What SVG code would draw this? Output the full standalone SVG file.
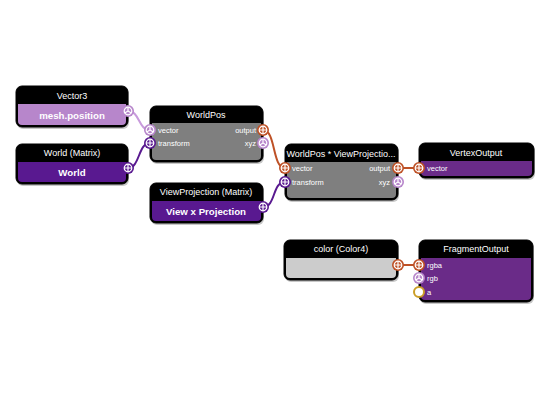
<svg xmlns="http://www.w3.org/2000/svg" width="550" height="400" viewBox="0 0 550 400">
<style>
.frame{fill:#000;stroke:#000;stroke-width:1}
.shadow{fill:#9a9a9a;opacity:.55}
.hd{font-family:"Liberation Sans",Arial,sans-serif;font-size:9px;fill:#fff;text-anchor:middle}
.val{font-family:"Liberation Sans",Arial,sans-serif;font-size:9.7px;font-weight:bold;fill:#fff;text-anchor:middle}
.pl{font-family:"Liberation Sans",Arial,sans-serif;font-size:7.5px;fill:#fff}
.pr{font-family:"Liberation Sans",Arial,sans-serif;font-size:7.5px;fill:#fff;text-anchor:end}
.link{fill:none;stroke-width:2}
.l4{stroke:#be5126}
.l3{stroke:#c89bdc}
.lm{stroke:#591990}
</style>
<defs>
<g id="p4"><circle r="6" fill="#be5126"/><circle r="3.8" fill="none" stroke="#fff" stroke-width="1.2"/><path d="M-4,0H4M0,-4V4" stroke="#fff" stroke-width="1.2"/></g>
<g id="pm"><circle r="6" fill="#591990"/><circle r="3.8" fill="none" stroke="#fff" stroke-width="1.2"/><path d="M-4,0H4M0,-4V4" stroke="#fff" stroke-width="1.2"/></g>
<g id="p3"><circle r="6" fill="#b786cb"/><circle r="3.8" fill="none" stroke="#fff" stroke-width="1.2"/><path d="M0,0V-3.8M0,0L-3.3,1.9M0,0L3.3,1.9" stroke="#fff" stroke-width="1.2"/></g>
<g id="pf"><circle r="5" fill="#fff" stroke="#cb9e27" stroke-width="2"/></g>
</defs>

<g id="connectors">
<path class="link l3" d="M128,111 C140,111 138,130 150,130"/>
<path class="link lm" d="M128,168 C140,168 138,143 150,143"/>
<path class="link l4" d="M263,130 C276,130 272,168 285,168"/>
<path class="link lm" d="M263,207 C276,207 272,182 285,182"/>
<path class="link l4" d="M398,168 H419"/>
<path class="link l4" d="M398,265 H419"/>
</g>

<g id="vector3">
<rect class="shadow" x="17" y="88" width="112" height="41" rx="6"/>
<rect class="frame" x="16" y="86" width="112" height="41" rx="6"/>
<path d="M18,104 H126 V121 Q126,125 122,125 H22 Q18,125 18,121 Z" fill="#b786cb"/>
<text class="hd" x="72" y="99">Vector3</text>
<text class="val" x="72" y="119">mesh.position</text>
<use href="#p3" x="128" y="111"/>
</g>

<g id="world">
<rect class="shadow" x="17" y="146" width="112" height="40" rx="6"/>
<rect class="frame" x="16" y="144" width="112" height="40" rx="6"/>
<path d="M18,162 H126 V178 Q126,182 122,182 H22 Q18,182 18,178 Z" fill="#591990"/>
<text class="hd" x="72" y="156">World (Matrix)</text>
<text class="val" x="72" y="176">World</text>
<use href="#pm" x="128" y="168"/>
</g>

<g id="worldpos">
<rect class="shadow" x="151" y="108" width="113" height="56" rx="6"/>
<rect class="frame" x="150" y="106" width="113" height="56" rx="6"/>
<path d="M152,123 H261 V156 Q261,160 257,160 H156 Q152,160 152,156 Z" fill="#7f7f7f"/>
<text class="hd" x="206" y="118">WorldPos</text>
<text class="pl" x="158" y="133">vector</text>
<text class="pl" x="158" y="146">transform</text>
<text class="pr" x="256" y="133">output</text>
<text class="pr" x="256" y="146">xyz</text>
<use href="#p3" x="150" y="130"/>
<use href="#pm" x="150" y="143"/>
<use href="#p4" x="263" y="130"/>
<use href="#p3" x="263" y="143"/>
</g>

<g id="viewprojection">
<rect class="shadow" x="151" y="185" width="113" height="40" rx="6"/>
<rect class="frame" x="150" y="183" width="113" height="40" rx="6"/>
<path d="M152,201 H261 V217 Q261,221 257,221 H156 Q152,221 152,217 Z" fill="#591990"/>
<text class="hd" x="206" y="195">ViewProjection (Matrix)</text>
<text class="val" x="206" y="215">View x Projection</text>
<use href="#pm" x="263" y="207"/>
</g>

<g id="worldpos-viewprojection">
<rect class="shadow" x="286" y="146" width="113" height="56" rx="6"/>
<rect class="frame" x="285" y="144" width="113" height="56" rx="6"/>
<path d="M287,162 H396 V194 Q396,198 392,198 H291 Q287,198 287,194 Z" fill="#7f7f7f"/>
<text class="hd" x="341" y="157">WorldPos * ViewProjectio...</text>
<text class="pl" x="292" y="171">vector</text>
<text class="pl" x="292" y="185">transform</text>
<text class="pr" x="390" y="171">output</text>
<text class="pr" x="390" y="185">xyz</text>
<use href="#p4" x="285" y="168"/>
<use href="#pm" x="285" y="182"/>
<use href="#p4" x="398" y="168"/>
<use href="#p3" x="398" y="182"/>
</g>

<g id="vertexoutput">
<rect class="shadow" x="420" y="145" width="115" height="35" rx="6"/>
<rect class="frame" x="419" y="143" width="115" height="35" rx="6"/>
<path d="M421,161 H532 V172 Q532,176 528,176 H425 Q421,176 421,172 Z" fill="#6a2b88"/>
<text class="hd" x="476" y="156">VertexOutput</text>
<text class="pl" x="427" y="171">vector</text>
<use href="#p4" x="419" y="168"/>
</g>

<g id="color">
<rect class="shadow" x="285" y="242" width="114" height="40" rx="6"/>
<rect class="frame" x="284" y="240" width="114" height="40" rx="6"/>
<path d="M286,258 H396 V274 Q396,278 392,278 H290 Q286,278 286,274 Z" fill="#cccccc"/>
<text class="hd" x="341" y="252">color (Color4)</text>
<use href="#p4" x="398" y="265"/>
</g>

<g id="fragmentoutput">
<rect class="shadow" x="420" y="242" width="114" height="62" rx="6"/>
<rect class="frame" x="419" y="240" width="114" height="62" rx="6"/>
<path d="M421,258 H531 V296 Q531,300 527,300 H425 Q421,300 421,296 Z" fill="#6a2b88"/>
<text class="hd" x="476" y="252">FragmentOutput</text>
<text class="pl" x="427" y="268">rgba</text>
<text class="pl" x="427" y="281">rgb</text>
<text class="pl" x="427" y="295">a</text>
<use href="#p4" x="419" y="265"/>
<use href="#p3" x="419" y="278"/>
<use href="#pf" x="419" y="292"/>
</g>
</svg>
